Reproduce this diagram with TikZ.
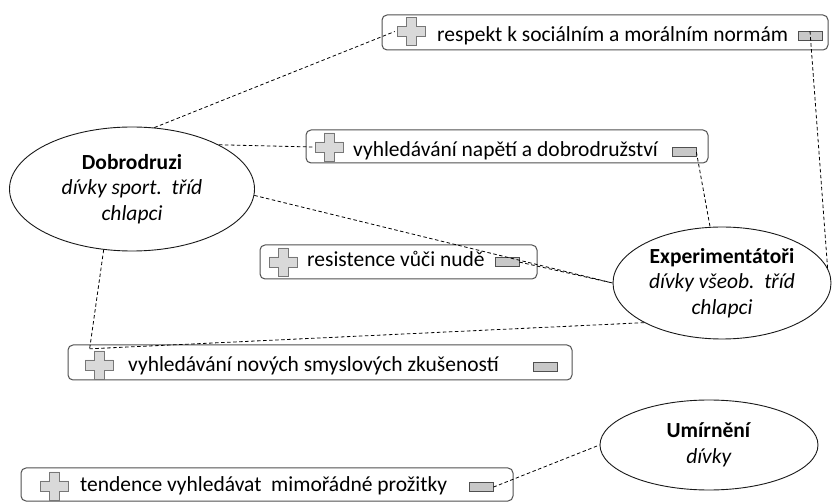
\documentclass[tikz,border=0pt]{standalone}
\usepackage{fontspec}
\setmainfont{Carlito}
\usetikzlibrary{shapes.geometric}
\definecolor{frame}{HTML}{505050}
\definecolor{iconfill}{HTML}{D9D9D9}
\definecolor{iconline}{HTML}{777777}
\definecolor{barfill}{HTML}{C8C8C8}
\begin{document}
\begin{tikzpicture}[x=1pt,y=-1pt,
  every node/.style={font=\fontsize{21.5}{25.5}\selectfont},
  topic/.style={draw=frame, line width=1pt, rounded corners=5pt, inner sep=0pt},
  group/.style={ellipse, draw=black!90, line width=0.9pt, inner sep=0pt, align=center},
  label/.style={anchor=base west, inner sep=0pt},
  bar/.style={draw=frame, fill=barfill, line width=0.8pt, minimum width=24pt,
    minimum height=9pt, inner sep=0pt, anchor=south},
  cross/.style={minimum width=32pt, minimum height=32pt, inner sep=0pt,
    path picture={\path[draw=iconline, fill=iconfill, line width=0.9pt]
      ([shift={(-14,-5)}]path picture bounding box.center) -- ++(9,0) -- ++(0,-9)
      -- ++(10,0) -- ++(0,9) -- ++(9,0) -- ++(0,10) -- ++(-9,0) -- ++(0,9)
      -- ++(-10,0) -- ++(0,-9) -- ++(-9,0) -- cycle;}},
  link/.style={draw=black, line width=0.8pt, dash pattern=on 3.5pt off 2.5pt}
]
\path[use as bounding box, fill=white] (0,0) rectangle (833,502);

% topic boxes: frame, plus icon, caption, collapse bar
\node[topic, minimum width=446pt, minimum height=35pt] (t1) at (605,32.5) {};
\node[cross] (c1) at (411,31.5) {};
\node[label] (l1) at (437,42) {respekt k sociálním a morálním normám};
\node[bar] (m1) at (810,41) {};

\node[topic, minimum width=402pt, minimum height=33pt] (t3) at (507,146.5) {};
\node[cross] (c3) at (329,147) {};
\node[label] (l3) at (353,157) {vyhledávání napětí a dobrodružství};
\node[bar] (m3) at (684,157) {};

\node[topic, minimum width=277pt, minimum height=34pt] (t4) at (398.5,262) {};
\node[cross] (c4) at (283,262) {};
\node[label] (l4) at (307,267) {resistence vůči nudě};
\node[bar] (m4) at (507,267) {};

\node[topic, minimum width=504pt, minimum height=35pt] (t6) at (320,362.5) {};
\node[cross] (c6) at (99,365) {};
\node[label] (l6) at (128,372) {vyhledávání nových smyslových zkušeností};
\node[bar] (m6) at (545,372) {};

\node[topic, minimum width=492pt, minimum height=33pt] (t7) at (267,484.5) {};
\node[cross] (c7) at (54.5,486) {};
\node[label] (l7) at (80,491) {tendence vyhledávat\ \ mimořádné prožitky};
\node[bar] (m7) at (481,492) {};

% groups
\node[group, minimum width=245pt, minimum height=124pt] (dob) at (132,189)
  {\textbf{Dobrodruzi}\\\textit{dívky sport.\ \ tříd}\\\textit{chlapci}};
\node[group, minimum width=218pt, minimum height=112pt] (exp) at (722,283)
  {\textbf{Experimentátoři}\\\textit{dívky všeob.\ \ tříd}\\\textit{chlapci}};
\node[group, minimum width=218pt, minimum height=90pt] (um) at (709,445)
  {\textbf{Umírnění}\\\textit{dívky}};

% connectors
\draw[link] (dob.70) -- (c1.west);
\draw[link] (dob.27) -- (c3.west);
\draw[link] (dob.-3) -- (exp.west);
\draw[link] (dob.-115) -- (c6.120);
\draw[link] (exp.207) -- (c6.120);
\draw[link] (m3.east) -- (exp.102);
\draw[link] (m1.north) -- (exp.8);
\draw[link] (m4.east) -- (exp.west);
\draw[link] (m7.east) -- (um.west);
\end{tikzpicture}
\end{document}
